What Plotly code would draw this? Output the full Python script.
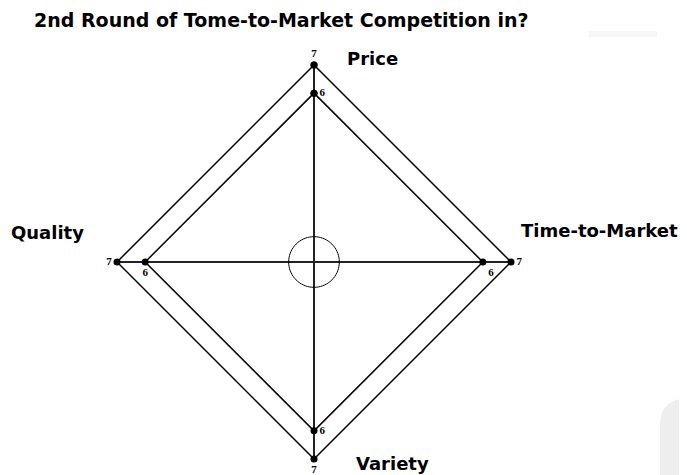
import plotly.graph_objects as go

categories = ["Price", "Time-to-Market", "Variety", "Quality"]
round_a = [7, 7, 7, 7]
round_b = [6, 6, 6, 6]
center_r = 0.9
circle_theta = list(range(0, 361, 5))
title_text = "2nd Round of Tome-to-Market Competition in?"

W, H = 687, 475
OFF = 8  # page body margin
cx, cy, R = 314 - OFF, 262 - OFF, 197
FONT = "DejaVu Sans"


def closed(v):
    return list(v) + [v[0]]


def px2paper(x, y):
    return (x - OFF) / W, 1 - (y - OFF) / H


fig = go.Figure()

fig.add_trace(go.Scatterpolar(
    r=closed(round_a), theta=closed(categories),
    mode="lines+markers+text",
    text=[str(v) for v in round_a] + [""],
    textposition=["top center", "middle right", "bottom center", "middle left", "top center"],
    textfont=dict(family="Liberation Serif", size=11, color="black", weight="bold"),
    line=dict(color="black", width=1.5),
    marker=dict(color="black", size=7),
    cliponaxis=False, showlegend=False, hoverinfo="skip",
))
fig.add_trace(go.Scatterpolar(
    r=closed(round_b), theta=closed(categories),
    mode="lines+markers+text",
    text=[str(v) for v in round_b] + [""],
    textposition=["middle right", "bottom right", "middle right", "bottom center", "middle right"],
    textfont=dict(family="Liberation Serif", size=11, color="black", weight="bold"),
    line=dict(color="black", width=1.5),
    marker=dict(color="black", size=7),
    cliponaxis=False, showlegend=False, hoverinfo="skip",
))
fig.add_trace(go.Scatterpolar(
    r=[center_r] * len(circle_theta), theta=circle_theta,
    mode="lines", line=dict(color="black", width=1),
    showlegend=False, hoverinfo="skip", subplot="polar2",
))

dom = dict(x=[(cx - R) / W, (cx + R) / W], y=[(H - cy - R) / H, (H - cy + R) / H])

fig.update_layout(
    width=W, height=H,
    margin=dict(l=0, r=0, t=0, b=0),
    paper_bgcolor="white", plot_bgcolor="white",
    polar=dict(
        domain=dom,
        bgcolor="rgba(0,0,0,0)",
        radialaxis=dict(range=[0, 7], visible=False, showgrid=False),
        angularaxis=dict(
            type="category",
            direction="clockwise", rotation=90,
            showline=False, showticklabels=False, ticks="",
            showgrid=True, gridcolor="#222", gridwidth=1.5,
            categoryorder="array", categoryarray=categories,
        ),
    ),
    polar2=dict(
        domain=dom,
        bgcolor="rgba(0,0,0,0)",
        radialaxis=dict(range=[0, 7], visible=False, showgrid=False),
        angularaxis=dict(visible=False, showgrid=False, showline=False,
                         showticklabels=False, ticks=""),
    ),
    font=dict(family=FONT),
)

tx, ty = px2paper(32, 20)
fig.add_annotation(x=tx, y=ty, xref="paper", yref="paper",
                   text=title_text, showarrow=False, xanchor="left", yanchor="middle",
                   font=dict(family=FONT, size=19, color="black", weight="bold"))

label_pos = {
    "Price": (372, 58),
    "Time-to-Market": (599, 231),
    "Variety": (392, 463),
    "Quality": (47, 232),
}
for name in categories:
    ax, ay = px2paper(*label_pos[name])
    fig.add_annotation(x=ax, y=ay, xref="paper", yref="paper",
                       text=name, showarrow=False, xanchor="center", yanchor="middle",
                       font=dict(family=FONT, size=18, color="black", weight="bold"))

# decorative faint shapes
sx0, sy0 = px2paper(660, 475)
sx1, sy1 = px2paper(660, 425)
sx2, sy2 = px2paper(687, 398)
fig.add_shape(type="path", xref="paper", yref="paper",
              path=f"M {sx0} 0 L {sx1} {sy1} Q {sx1} {px2paper(660, 400)[1]} {sx2} {sy2} L 1 {sy2} L 1 0 Z",
              fillcolor="#eeeeee", line=dict(width=0), layer="below")
rx0, ry0 = px2paper(589, 37)
rx1, ry1 = px2paper(657, 31)
fig.add_shape(type="rect", xref="paper", yref="paper",
              x0=rx0, x1=rx1, y0=ry0, y1=ry1,
              fillcolor="#f7f7f7", line=dict(width=0), layer="below")

fig.write_html("out.html")
